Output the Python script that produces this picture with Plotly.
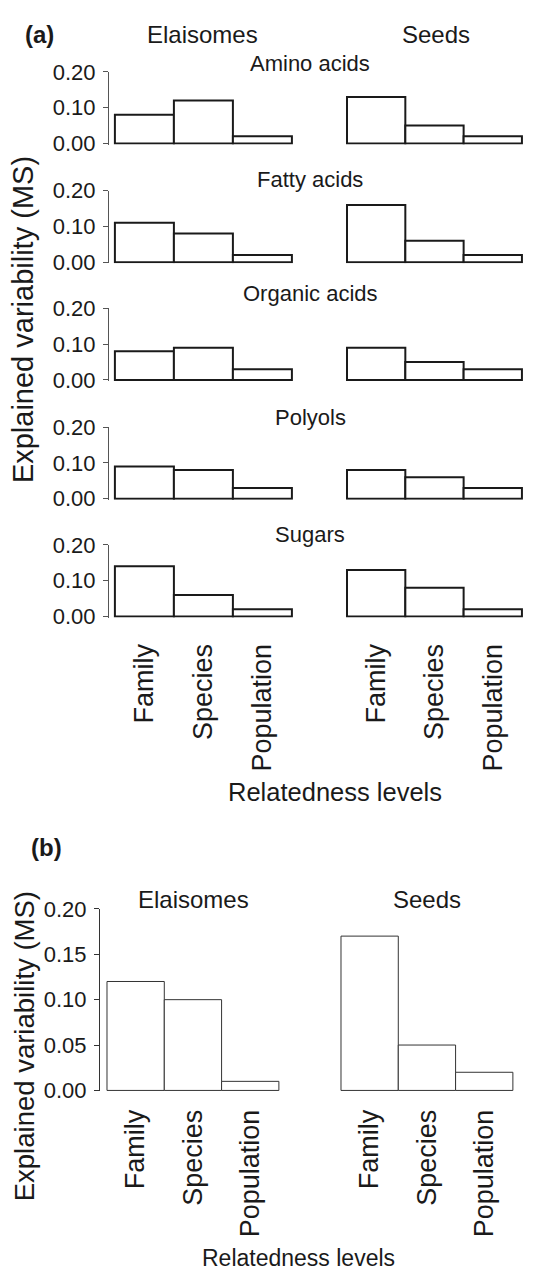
import plotly.graph_objects as go

W, H = 542, 1282

categories = ["Family", "Species", "Population"]
compounds = ["Amino acids", "Fatty acids", "Organic acids", "Polyols", "Sugars"]

amino_elaisomes = [0.08, 0.12, 0.02]
amino_seeds = [0.13, 0.05, 0.02]
fatty_elaisomes = [0.11, 0.08, 0.02]
fatty_seeds = [0.16, 0.06, 0.02]
organic_elaisomes = [0.08, 0.09, 0.03]
organic_seeds = [0.09, 0.05, 0.03]
polyols_elaisomes = [0.09, 0.08, 0.03]
polyols_seeds = [0.08, 0.06, 0.03]
sugars_elaisomes = [0.14, 0.06, 0.02]
sugars_seeds = [0.13, 0.08, 0.02]

total_elaisomes = [0.12, 0.10, 0.01]
total_seeds = [0.17, 0.05, 0.02]

ticks_a = [0.0, 0.1, 0.2]
ticktext_a = ["0.00", "0.10", "0.20"]
ticks_b = [0.0, 0.05, 0.10, 0.15, 0.20]
ticktext_b = ["0.00", "0.05", "0.10", "0.15", "0.20"]

FONT = "Liberation Sans, Arial, sans-serif"
TXT = "#1a1a1a"

def fx(px):
    return px / W

def fy(py):
    return 1 - py / H

fig = go.Figure()
layout = dict(
    width=W, height=H, margin=dict(l=0, r=0, t=0, b=0),
    paper_bgcolor="white", plot_bgcolor="white", showlegend=False,
    bargap=0, font=dict(family=FONT, color=TXT),
)

rows_a = [
    (amino_elaisomes, amino_seeds, 61, 134),
    (fatty_elaisomes, fatty_seeds, 182, 255),
    (organic_elaisomes, organic_seeds, 302, 375),
    (polyols_elaisomes, polyols_seeds, 423, 496),
    (sugars_elaisomes, sugars_seeds, 543, 616),
]

n = 0
def add_panel(values, xdom, ydom, yr, xr, show_y, tickvals, ticktext, show_x,
              line_w, line_c, axis_c, xstand, rot_size):
    global n
    n += 1
    sx = "" if n == 1 else str(n)
    fig.add_trace(go.Bar(
        x=categories, y=values, width=1,
        marker=dict(color="white", line=dict(color=line_c, width=line_w)),
        xaxis="x" + sx, yaxis="y" + sx, hoverinfo="skip",
    ))
    layout["xaxis" + sx] = dict(
        domain=xdom, range=xr, anchor="y" + sx, showgrid=False, zeroline=False,
        showline=False, ticks="", showticklabels=show_x, tickangle=-90,
        ticklabelstandoff=xstand, type="category",
        tickfont=dict(size=rot_size, family=FONT, color=TXT),
    )
    layout["yaxis" + sx] = dict(
        domain=ydom, range=yr, anchor="x" + sx, showgrid=False, zeroline=False,
        visible=show_y, showline=True, linecolor=axis_c, linewidth=1,
        ticks="outside", ticklen=5, tickcolor=axis_c, tickwidth=1,
        tickvals=tickvals, ticktext=ticktext, ticklabelstandoff=3,
        tickfont=dict(size=22, family=FONT, color=TXT),
    )

# Panel (a)
for i, (ev, sv, ytop, ybot) in enumerate(rows_a):
    ppu = (ybot - ytop) / 0.2
    ylo = -0.003
    ydom = [fy(ybot - ylo * ppu), fy(ytop)]
    last = i == len(rows_a) - 1
    add_panel(ev, [fx(109), fx(109 + 3.15 * 59)], ydom, [ylo, 0.2], [-0.6, 2.55],
              True, ticks_a, ticktext_a, last, 2, "#1a1a1a", "#555555", 20, 27)
    add_panel(sv, [fx(341.2), fx(341.2 + 3.15 * 58.3)], ydom, [ylo, 0.2], [-0.6, 2.55],
              False, ticks_a, ticktext_a, last, 2, "#1a1a1a", "#555555", 20, 27)

# Panel (b)
ytop, ybot = 914, 1099
ppu = (ybot - ytop) / 0.2
ylo = -0.001
ydom = [fy(ybot - ylo * ppu), fy(ytop)]
add_panel(total_elaisomes, [fx(100), fx(100 + 3.172 * 57.3)], ydom, [ylo, 0.2], [-0.622, 2.55],
          True, ticks_b, ticktext_b, True, 1, "#333333", "#333333", 12, 27)
add_panel(total_seeds, [fx(334), fx(334 + 3.172 * 57.3)], ydom, [ylo, 0.2], [-0.622, 2.55],
          False, ticks_b, ticktext_b, True, 1, "#333333", "#333333", 12, 27)

annotations = []
def ann(text, px, py, size, angle=0, bold=False):
    annotations.append(dict(
        text=f"<b>{text}</b>" if bold else text, x=fx(px), y=fy(py),
        xref="paper", yref="paper", xanchor="center", yanchor="middle",
        showarrow=False, textangle=angle,
        font=dict(size=size, family=FONT, color=TXT),
    ))

ann("(a)", 39, 23, 24, bold=True)
ann("Elaisomes", 202, 23, 24)
ann("Seeds", 436, 23, 24)
for name, py in zip(compounds, [52, 171, 287, 413, 532]):
    ann(name, 310, py, 22)
ann("Explained variability (MS)", 23, 314, 29, angle=-90)
ann("Relatedness levels", 335, 795, 25.5)

ann("(b)", 46, 851, 24, bold=True)
ann("Elaisomes", 193, 904, 24)
ann("Seeds", 427, 904, 24)
ann("Explained variability (MS)", 24, 1054, 27.5, angle=-90)
ann("Relatedness levels", 298, 1270, 23)

layout["annotations"] = annotations
fig.update_layout(**layout)
fig.write_html(
    "out.html",
    config={"displayModeBar": False, "staticPlot": True},
    post_script=(
        "document.body.style.margin='0';"
        "document.body.style.padding='0';"
        "document.documentElement.style.overflow='hidden';"
        "document.body.style.overflow='hidden';"
    ),
)
